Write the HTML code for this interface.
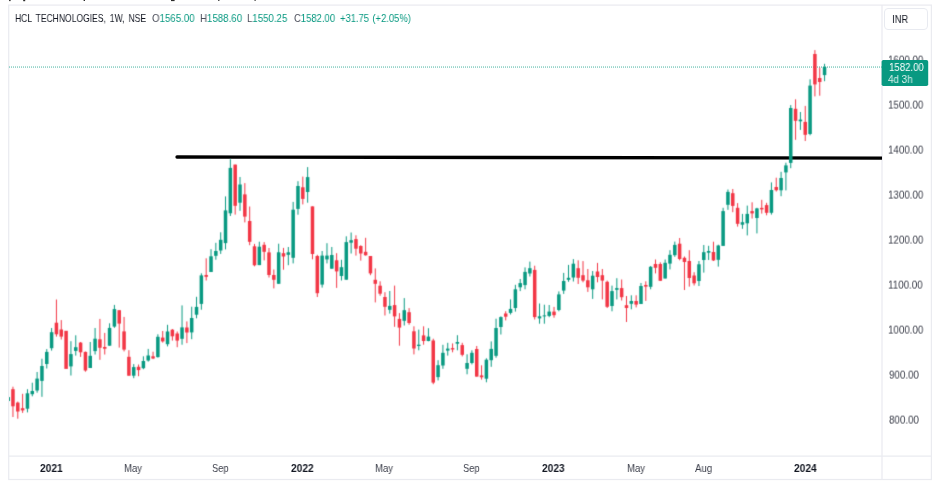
<!DOCTYPE html>
<html><head><meta charset="utf-8">
<style>
html,body{margin:0;padding:0;background:#fff;}
body{width:940px;height:483px;position:relative;overflow:hidden;font-family:"Liberation Sans",sans-serif;}
.abs{position:absolute;}
.frame{left:8px;top:5px;width:923px;height:474px;border:1px solid #e4e6ed;box-sizing:border-box;}
.vsep{left:882px;top:5px;width:1px;height:474px;background:#e4e6ed;}
.hsep{left:8px;top:456px;width:923px;height:1px;background:#e4e6ed;}
.t{white-space:nowrap;line-height:1;transform-origin:0 50%;will-change:transform;}
.pl{color:#50535e;font-size:10.5px;left:889px;}
.tl{color:#50535e;font-size:10.5px;transform-origin:50% 50%;}
.tb{color:#131722;font-weight:bold;}
</style></head><body>

<!-- header -->
<div class="abs t" style="left:15.08px;top:12.70px;font-size:10.5px;color:#131722;transform:scaleX(0.8131);transform-origin:0 0;word-spacing:2px;">HCL TECHNOLOGIES, 1W, NSE</div>
<div class="abs t" style="left:151.64px;top:12.70px;font-size:10.5px;color:#131722;transform:scaleX(0.9238);transform-origin:0 0;"><span style="color:#4a4d59">O</span><span style="color:#089981">1565.00</span></div>
<div class="abs t" style="left:199.79px;top:12.70px;font-size:10.5px;color:#131722;transform:scaleX(0.9243);transform-origin:0 0;"><span style="color:#4a4d59">H</span><span style="color:#089981">1588.60</span></div>
<div class="abs t" style="left:247.39px;top:12.70px;font-size:10.5px;color:#131722;transform:scaleX(0.9200);transform-origin:0 0;"><span style="color:#4a4d59">L</span><span style="color:#089981">1550.25</span></div>
<div class="abs t" style="left:293.55px;top:12.70px;font-size:10.5px;color:#131722;transform:scaleX(0.9010);transform-origin:0 0;"><span style="color:#4a4d59">C</span><span style="color:#089981">1582.00</span></div>
<div class="abs t" style="left:340.45px;top:12.70px;font-size:10.5px;color:#089981;transform:scaleX(0.8936);transform-origin:0 0;word-spacing:1px;">+31.75 (+2.05%)</div>

<!-- chart svg -->
<svg class="abs" style="left:0;top:0" width="940" height="483" viewBox="0 0 940 483" shape-rendering="geometricPrecision">
<defs><filter id="bl" x="-5%" y="-5%" width="110%" height="110%" color-interpolation-filters="sRGB"><feConvolveMatrix order="3" kernelMatrix="0.0169 0.0962 0.0169 0.0962 0.5476 0.0962 0.0169 0.0962 0.0169" divisor="1" edgeMode="none" preserveAlpha="false"/></filter><clipPath id="cp"><rect x="9" y="6" width="873" height="450"/></clipPath></defs>
<g fill="none" stroke="#eaebf0" stroke-width="1.25">
<rect x="8.7" y="5.1" width="922.7" height="474.4"/>
<line x1="882" y1="5.1" x2="882" y2="479.5"/>
<line x1="8.7" y1="456" x2="931.4" y2="456"/>
</g>
<g fill="#2a2a2a">
<rect x="9.1" y="0" width="1.5" height="1.1"/><rect x="23.2" y="0" width="2" height="1.2"/><rect x="83.6" y="0" width="1.4" height="1.0"/>
<rect x="171" y="0" width="3.6" height="1.1"/><rect x="218.2" y="0" width="1.2" height="1.0"/><rect x="254.5" y="0" width="1.2" height="0.9"/>
</g>
<g clip-path="url(#cp)">
<line x1="9" y1="67.05" x2="882" y2="67.05" stroke="#089981" stroke-width="1" stroke-dasharray="1 1" opacity="0.75"/>
<line x1="177" y1="157.0" x2="890" y2="158.1" stroke="#000" stroke-width="3.3" stroke-linecap="round"/>
<g filter="url(#bl)">
<rect x="6.37" y="397.1" width="3.5" height="3.9" fill="#089981"/>
<rect x="12.45" y="386.7" width="1.0" height="30.3" fill="#f23645"/>
<rect x="11.20" y="389.2" width="3.5" height="17.1" fill="#f23645"/>
<rect x="17.28" y="401.6" width="1.0" height="17.1" fill="#f23645"/>
<rect x="16.03" y="402.6" width="3.5" height="8.9" fill="#f23645"/>
<rect x="22.11" y="393.8" width="1.0" height="19.1" fill="#f23645"/>
<rect x="20.86" y="408.2" width="3.5" height="2.2" fill="#f23645"/>
<rect x="26.95" y="389.2" width="1.0" height="23.2" fill="#089981"/>
<rect x="25.70" y="393.3" width="3.5" height="15.4" fill="#089981"/>
<rect x="31.78" y="382.7" width="1.0" height="13.6" fill="#089981"/>
<rect x="30.53" y="391.0" width="3.5" height="3.2" fill="#089981"/>
<rect x="36.61" y="372.0" width="1.0" height="20.7" fill="#089981"/>
<rect x="35.36" y="378.6" width="3.5" height="11.9" fill="#089981"/>
<rect x="41.44" y="358.7" width="1.0" height="38.1" fill="#089981"/>
<rect x="40.19" y="366.0" width="3.5" height="14.9" fill="#089981"/>
<rect x="46.27" y="349.1" width="1.0" height="19.4" fill="#089981"/>
<rect x="45.02" y="351.9" width="3.5" height="12.1" fill="#089981"/>
<rect x="51.10" y="328.0" width="1.0" height="22.6" fill="#089981"/>
<rect x="49.85" y="332.2" width="3.5" height="16.0" fill="#089981"/>
<rect x="55.93" y="299.5" width="1.0" height="37.1" fill="#f23645"/>
<rect x="54.68" y="322.7" width="3.5" height="11.6" fill="#f23645"/>
<rect x="60.76" y="320.1" width="1.0" height="19.4" fill="#f23645"/>
<rect x="59.51" y="329.5" width="3.5" height="7.1" fill="#f23645"/>
<rect x="64.34" y="330.8" width="3.5" height="38.1" fill="#f23645"/>
<rect x="70.42" y="341.2" width="1.0" height="34.3" fill="#089981"/>
<rect x="69.17" y="354.1" width="3.5" height="12.3" fill="#089981"/>
<rect x="75.25" y="335.3" width="1.0" height="20.3" fill="#089981"/>
<rect x="74.00" y="347.2" width="3.5" height="3.7" fill="#089981"/>
<rect x="80.09" y="342.0" width="1.0" height="14.9" fill="#f23645"/>
<rect x="78.84" y="342.6" width="3.5" height="9.7" fill="#f23645"/>
<rect x="84.92" y="351.5" width="1.0" height="20.2" fill="#f23645"/>
<rect x="83.67" y="351.9" width="3.5" height="18.6" fill="#f23645"/>
<rect x="89.75" y="342.0" width="1.0" height="26.0" fill="#089981"/>
<rect x="88.50" y="355.8" width="3.5" height="12.2" fill="#089981"/>
<rect x="94.58" y="328.0" width="1.0" height="26.5" fill="#089981"/>
<rect x="93.33" y="338.7" width="3.5" height="12.4" fill="#089981"/>
<rect x="99.41" y="318.9" width="1.0" height="40.9" fill="#f23645"/>
<rect x="98.16" y="339.3" width="3.5" height="8.5" fill="#f23645"/>
<rect x="104.24" y="332.9" width="1.0" height="21.6" fill="#f23645"/>
<rect x="102.99" y="347.0" width="3.5" height="1.7" fill="#f23645"/>
<rect x="109.07" y="323.3" width="1.0" height="22.4" fill="#089981"/>
<rect x="107.82" y="327.9" width="3.5" height="17.8" fill="#089981"/>
<rect x="113.90" y="304.9" width="1.0" height="22.9" fill="#089981"/>
<rect x="112.65" y="309.1" width="3.5" height="17.5" fill="#089981"/>
<rect x="118.73" y="310.2" width="1.0" height="37.4" fill="#f23645"/>
<rect x="117.48" y="310.2" width="3.5" height="13.4" fill="#f23645"/>
<rect x="123.56" y="316.9" width="1.0" height="34.5" fill="#f23645"/>
<rect x="122.31" y="331.4" width="3.5" height="18.2" fill="#f23645"/>
<rect x="128.40" y="350.2" width="1.0" height="25.5" fill="#f23645"/>
<rect x="127.15" y="356.8" width="3.5" height="18.9" fill="#f23645"/>
<rect x="133.23" y="364.1" width="1.0" height="14.1" fill="#089981"/>
<rect x="131.98" y="367.1" width="3.5" height="8.6" fill="#089981"/>
<rect x="138.06" y="364.5" width="1.0" height="11.7" fill="#f23645"/>
<rect x="136.81" y="366.8" width="3.5" height="3.3" fill="#f23645"/>
<rect x="142.89" y="356.3" width="1.0" height="12.9" fill="#089981"/>
<rect x="141.64" y="361.0" width="3.5" height="7.2" fill="#089981"/>
<rect x="147.72" y="348.9" width="1.0" height="12.7" fill="#089981"/>
<rect x="146.47" y="355.5" width="3.5" height="5.0" fill="#089981"/>
<rect x="152.55" y="351.7" width="1.0" height="7.4" fill="#f23645"/>
<rect x="151.30" y="356.3" width="3.5" height="2.2" fill="#f23645"/>
<rect x="157.38" y="334.3" width="1.0" height="23.3" fill="#089981"/>
<rect x="156.13" y="336.8" width="3.5" height="20.3" fill="#089981"/>
<rect x="162.21" y="331.0" width="1.0" height="11.6" fill="#f23645"/>
<rect x="160.96" y="337.6" width="3.5" height="3.8" fill="#f23645"/>
<rect x="167.04" y="324.8" width="1.0" height="21.6" fill="#089981"/>
<rect x="165.79" y="331.5" width="3.5" height="12.7" fill="#089981"/>
<rect x="171.88" y="329.0" width="1.0" height="11.6" fill="#f23645"/>
<rect x="170.62" y="329.7" width="3.5" height="6.6" fill="#f23645"/>
<rect x="176.71" y="331.5" width="1.0" height="15.7" fill="#f23645"/>
<rect x="175.46" y="333.5" width="3.5" height="7.1" fill="#f23645"/>
<rect x="181.54" y="305.4" width="1.0" height="39.3" fill="#089981"/>
<rect x="180.29" y="327.4" width="3.5" height="11.4" fill="#089981"/>
<rect x="186.37" y="321.4" width="1.0" height="21.7" fill="#f23645"/>
<rect x="185.12" y="327.5" width="3.5" height="5.0" fill="#f23645"/>
<rect x="191.20" y="306.7" width="1.0" height="32.5" fill="#089981"/>
<rect x="189.95" y="318.0" width="3.5" height="14.4" fill="#089981"/>
<rect x="196.03" y="296.8" width="1.0" height="21.5" fill="#089981"/>
<rect x="194.78" y="306.9" width="3.5" height="7.8" fill="#089981"/>
<rect x="200.86" y="273.3" width="1.0" height="36.4" fill="#089981"/>
<rect x="199.61" y="275.4" width="3.5" height="28.5" fill="#089981"/>
<rect x="205.69" y="258.3" width="1.0" height="22.2" fill="#f23645"/>
<rect x="204.44" y="275.0" width="3.5" height="1.8" fill="#f23645"/>
<rect x="210.52" y="249.2" width="1.0" height="22.8" fill="#089981"/>
<rect x="209.27" y="256.3" width="3.5" height="15.7" fill="#089981"/>
<rect x="215.35" y="242.8" width="1.0" height="16.9" fill="#089981"/>
<rect x="214.10" y="251.0" width="3.5" height="4.8" fill="#089981"/>
<rect x="220.19" y="232.3" width="1.0" height="21.6" fill="#089981"/>
<rect x="218.94" y="239.8" width="3.5" height="10.7" fill="#089981"/>
<rect x="225.02" y="196.4" width="1.0" height="53.0" fill="#089981"/>
<rect x="223.77" y="210.4" width="3.5" height="32.7" fill="#089981"/>
<rect x="229.85" y="159.1" width="1.0" height="56.9" fill="#089981"/>
<rect x="228.60" y="167.9" width="3.5" height="45.4" fill="#089981"/>
<rect x="234.68" y="164.6" width="1.0" height="50.0" fill="#f23645"/>
<rect x="233.43" y="164.6" width="3.5" height="41.2" fill="#f23645"/>
<rect x="239.51" y="177.0" width="1.0" height="33.8" fill="#089981"/>
<rect x="238.26" y="184.5" width="3.5" height="18.2" fill="#089981"/>
<rect x="244.34" y="183.1" width="1.0" height="39.3" fill="#f23645"/>
<rect x="243.09" y="194.4" width="3.5" height="22.2" fill="#f23645"/>
<rect x="249.17" y="206.5" width="1.0" height="38.7" fill="#f23645"/>
<rect x="247.92" y="221.0" width="3.5" height="20.8" fill="#f23645"/>
<rect x="254.00" y="243.9" width="1.0" height="22.4" fill="#f23645"/>
<rect x="252.75" y="246.3" width="3.5" height="19.0" fill="#f23645"/>
<rect x="258.83" y="241.7" width="1.0" height="23.4" fill="#089981"/>
<rect x="257.58" y="246.7" width="3.5" height="18.4" fill="#089981"/>
<rect x="263.66" y="242.1" width="1.0" height="18.3" fill="#f23645"/>
<rect x="262.41" y="244.8" width="3.5" height="7.0" fill="#f23645"/>
<rect x="268.50" y="248.0" width="1.0" height="29.5" fill="#f23645"/>
<rect x="267.25" y="252.4" width="3.5" height="22.6" fill="#f23645"/>
<rect x="273.33" y="269.5" width="1.0" height="18.9" fill="#f23645"/>
<rect x="272.08" y="275.0" width="3.5" height="4.8" fill="#f23645"/>
<rect x="278.16" y="243.7" width="1.0" height="40.1" fill="#089981"/>
<rect x="276.91" y="252.3" width="3.5" height="31.5" fill="#089981"/>
<rect x="282.99" y="247.9" width="1.0" height="21.8" fill="#f23645"/>
<rect x="281.74" y="253.2" width="3.5" height="3.3" fill="#f23645"/>
<rect x="287.82" y="247.0" width="1.0" height="18.2" fill="#089981"/>
<rect x="286.57" y="252.3" width="3.5" height="2.5" fill="#089981"/>
<rect x="292.65" y="201.9" width="1.0" height="61.5" fill="#089981"/>
<rect x="291.40" y="209.7" width="3.5" height="48.1" fill="#089981"/>
<rect x="297.48" y="181.2" width="1.0" height="33.5" fill="#089981"/>
<rect x="296.23" y="186.0" width="3.5" height="22.9" fill="#089981"/>
<rect x="302.31" y="176.6" width="1.0" height="27.8" fill="#f23645"/>
<rect x="301.06" y="187.3" width="3.5" height="11.6" fill="#f23645"/>
<rect x="307.14" y="167.1" width="1.0" height="35.6" fill="#089981"/>
<rect x="305.89" y="177.1" width="3.5" height="14.9" fill="#089981"/>
<rect x="311.97" y="206.4" width="1.0" height="52.9" fill="#f23645"/>
<rect x="310.72" y="206.4" width="3.5" height="47.6" fill="#f23645"/>
<rect x="316.81" y="254.8" width="1.0" height="42.2" fill="#f23645"/>
<rect x="315.56" y="256.0" width="3.5" height="37.2" fill="#f23645"/>
<rect x="321.64" y="251.0" width="1.0" height="36.6" fill="#089981"/>
<rect x="320.39" y="255.6" width="3.5" height="29.0" fill="#089981"/>
<rect x="326.47" y="243.2" width="1.0" height="20.2" fill="#089981"/>
<rect x="325.22" y="255.6" width="3.5" height="3.8" fill="#089981"/>
<rect x="331.30" y="247.0" width="1.0" height="21.7" fill="#089981"/>
<rect x="330.05" y="255.0" width="3.5" height="13.7" fill="#089981"/>
<rect x="336.13" y="253.2" width="1.0" height="34.7" fill="#f23645"/>
<rect x="334.88" y="260.3" width="3.5" height="11.1" fill="#f23645"/>
<rect x="340.96" y="259.8" width="1.0" height="20.7" fill="#089981"/>
<rect x="339.71" y="267.2" width="3.5" height="8.8" fill="#089981"/>
<rect x="345.79" y="236.3" width="1.0" height="43.4" fill="#089981"/>
<rect x="344.54" y="242.1" width="3.5" height="37.6" fill="#089981"/>
<rect x="350.62" y="232.5" width="1.0" height="21.0" fill="#089981"/>
<rect x="349.37" y="240.2" width="3.5" height="2.5" fill="#089981"/>
<rect x="355.45" y="235.3" width="1.0" height="20.3" fill="#f23645"/>
<rect x="354.20" y="239.1" width="3.5" height="9.6" fill="#f23645"/>
<rect x="360.28" y="245.2" width="1.0" height="15.4" fill="#f23645"/>
<rect x="359.03" y="246.0" width="3.5" height="7.5" fill="#f23645"/>
<rect x="365.12" y="237.8" width="1.0" height="17.8" fill="#f23645"/>
<rect x="363.87" y="251.8" width="3.5" height="3.5" fill="#f23645"/>
<rect x="369.95" y="256.0" width="1.0" height="19.2" fill="#f23645"/>
<rect x="368.70" y="256.0" width="3.5" height="17.4" fill="#f23645"/>
<rect x="374.78" y="268.4" width="1.0" height="34.0" fill="#f23645"/>
<rect x="373.53" y="279.8" width="3.5" height="4.0" fill="#f23645"/>
<rect x="379.61" y="281.3" width="1.0" height="14.4" fill="#f23645"/>
<rect x="378.36" y="285.7" width="3.5" height="8.0" fill="#f23645"/>
<rect x="384.44" y="292.2" width="1.0" height="23.3" fill="#f23645"/>
<rect x="383.19" y="297.0" width="3.5" height="9.8" fill="#f23645"/>
<rect x="389.27" y="291.0" width="1.0" height="22.6" fill="#089981"/>
<rect x="388.02" y="305.9" width="3.5" height="3.9" fill="#089981"/>
<rect x="394.10" y="285.6" width="1.0" height="41.2" fill="#f23645"/>
<rect x="392.85" y="305.1" width="3.5" height="11.3" fill="#f23645"/>
<rect x="398.93" y="313.1" width="1.0" height="32.6" fill="#f23645"/>
<rect x="397.68" y="318.9" width="3.5" height="8.7" fill="#f23645"/>
<rect x="403.76" y="298.1" width="1.0" height="27.4" fill="#089981"/>
<rect x="402.51" y="310.2" width="3.5" height="10.6" fill="#089981"/>
<rect x="408.59" y="308.1" width="1.0" height="16.6" fill="#f23645"/>
<rect x="407.34" y="312.2" width="3.5" height="10.8" fill="#f23645"/>
<rect x="413.43" y="326.3" width="1.0" height="28.1" fill="#f23645"/>
<rect x="412.18" y="331.3" width="3.5" height="17.2" fill="#f23645"/>
<rect x="418.26" y="329.6" width="1.0" height="20.7" fill="#089981"/>
<rect x="417.01" y="344.7" width="3.5" height="1.3" fill="#089981"/>
<rect x="423.09" y="326.3" width="1.0" height="18.4" fill="#f23645"/>
<rect x="421.84" y="335.4" width="3.5" height="5.6" fill="#f23645"/>
<rect x="427.92" y="328.2" width="1.0" height="13.1" fill="#089981"/>
<rect x="426.67" y="336.6" width="3.5" height="4.4" fill="#089981"/>
<rect x="432.75" y="338.7" width="1.0" height="45.5" fill="#f23645"/>
<rect x="431.50" y="340.5" width="3.5" height="42.1" fill="#f23645"/>
<rect x="437.58" y="360.2" width="1.0" height="20.2" fill="#089981"/>
<rect x="436.33" y="365.2" width="3.5" height="11.9" fill="#089981"/>
<rect x="442.41" y="344.8" width="1.0" height="24.0" fill="#089981"/>
<rect x="441.16" y="352.8" width="3.5" height="12.7" fill="#089981"/>
<rect x="447.24" y="342.8" width="1.0" height="12.8" fill="#089981"/>
<rect x="445.99" y="348.6" width="3.5" height="2.0" fill="#089981"/>
<rect x="452.07" y="343.4" width="1.0" height="8.9" fill="#f23645"/>
<rect x="450.82" y="348.1" width="3.5" height="1.4" fill="#f23645"/>
<rect x="456.90" y="335.2" width="1.0" height="15.1" fill="#089981"/>
<rect x="455.65" y="342.0" width="3.5" height="1.7" fill="#089981"/>
<rect x="461.74" y="342.8" width="1.0" height="13.6" fill="#f23645"/>
<rect x="460.49" y="345.1" width="3.5" height="9.7" fill="#f23645"/>
<rect x="466.57" y="354.3" width="1.0" height="20.0" fill="#089981"/>
<rect x="465.32" y="363.0" width="3.5" height="5.8" fill="#089981"/>
<rect x="471.40" y="350.3" width="1.0" height="14.1" fill="#089981"/>
<rect x="470.15" y="352.8" width="3.5" height="10.2" fill="#089981"/>
<rect x="476.23" y="346.0" width="1.0" height="30.6" fill="#f23645"/>
<rect x="474.98" y="349.0" width="3.5" height="27.6" fill="#f23645"/>
<rect x="481.06" y="365.3" width="1.0" height="14.3" fill="#f23645"/>
<rect x="479.81" y="375.4" width="3.5" height="1.9" fill="#f23645"/>
<rect x="485.89" y="358.3" width="1.0" height="24.0" fill="#089981"/>
<rect x="484.64" y="359.7" width="3.5" height="19.0" fill="#089981"/>
<rect x="490.72" y="341.4" width="1.0" height="25.4" fill="#089981"/>
<rect x="489.47" y="348.9" width="3.5" height="11.3" fill="#089981"/>
<rect x="495.55" y="318.7" width="1.0" height="39.0" fill="#089981"/>
<rect x="494.30" y="328.0" width="3.5" height="27.8" fill="#089981"/>
<rect x="500.38" y="316.3" width="1.0" height="18.2" fill="#089981"/>
<rect x="499.13" y="317.1" width="3.5" height="9.9" fill="#089981"/>
<rect x="505.21" y="311.2" width="1.0" height="9.2" fill="#f23645"/>
<rect x="503.96" y="313.5" width="3.5" height="3.2" fill="#f23645"/>
<rect x="510.05" y="299.4" width="1.0" height="15.1" fill="#089981"/>
<rect x="508.80" y="308.9" width="3.5" height="4.0" fill="#089981"/>
<rect x="514.88" y="284.8" width="1.0" height="26.8" fill="#089981"/>
<rect x="513.63" y="289.3" width="3.5" height="18.7" fill="#089981"/>
<rect x="519.71" y="279.0" width="1.0" height="12.1" fill="#089981"/>
<rect x="518.46" y="283.1" width="3.5" height="4.2" fill="#089981"/>
<rect x="524.54" y="267.4" width="1.0" height="21.9" fill="#089981"/>
<rect x="523.29" y="271.9" width="3.5" height="13.2" fill="#089981"/>
<rect x="529.37" y="261.6" width="1.0" height="14.9" fill="#089981"/>
<rect x="528.12" y="268.2" width="3.5" height="5.3" fill="#089981"/>
<rect x="534.20" y="265.7" width="1.0" height="53.8" fill="#f23645"/>
<rect x="532.95" y="269.9" width="3.5" height="47.2" fill="#f23645"/>
<rect x="539.03" y="303.5" width="1.0" height="20.2" fill="#089981"/>
<rect x="537.78" y="316.3" width="3.5" height="2.1" fill="#089981"/>
<rect x="543.86" y="304.7" width="1.0" height="19.0" fill="#089981"/>
<rect x="542.61" y="315.4" width="3.5" height="1.0" fill="#089981"/>
<rect x="548.69" y="305.0" width="1.0" height="12.2" fill="#089981"/>
<rect x="547.44" y="311.6" width="3.5" height="4.3" fill="#089981"/>
<rect x="553.52" y="306.9" width="1.0" height="10.8" fill="#f23645"/>
<rect x="552.27" y="311.6" width="3.5" height="3.6" fill="#f23645"/>
<rect x="558.36" y="291.4" width="1.0" height="19.9" fill="#089981"/>
<rect x="557.11" y="294.4" width="3.5" height="15.6" fill="#089981"/>
<rect x="563.19" y="272.9" width="1.0" height="21.0" fill="#089981"/>
<rect x="561.94" y="281.0" width="3.5" height="9.6" fill="#089981"/>
<rect x="568.02" y="264.9" width="1.0" height="16.9" fill="#089981"/>
<rect x="566.77" y="277.8" width="3.5" height="2.0" fill="#089981"/>
<rect x="572.85" y="259.1" width="1.0" height="22.4" fill="#089981"/>
<rect x="571.60" y="263.7" width="3.5" height="13.8" fill="#089981"/>
<rect x="577.68" y="260.3" width="1.0" height="23.7" fill="#f23645"/>
<rect x="576.43" y="268.2" width="3.5" height="9.6" fill="#f23645"/>
<rect x="582.51" y="261.1" width="1.0" height="21.2" fill="#f23645"/>
<rect x="581.26" y="275.2" width="3.5" height="5.4" fill="#f23645"/>
<rect x="587.34" y="269.0" width="1.0" height="22.9" fill="#f23645"/>
<rect x="586.09" y="280.3" width="3.5" height="7.0" fill="#f23645"/>
<rect x="592.17" y="271.0" width="1.0" height="27.9" fill="#089981"/>
<rect x="590.92" y="275.7" width="3.5" height="13.6" fill="#089981"/>
<rect x="597.00" y="262.9" width="1.0" height="19.4" fill="#f23645"/>
<rect x="595.75" y="271.5" width="3.5" height="5.5" fill="#f23645"/>
<rect x="601.83" y="269.0" width="1.0" height="30.4" fill="#f23645"/>
<rect x="600.58" y="275.2" width="3.5" height="5.4" fill="#f23645"/>
<rect x="606.67" y="280.6" width="1.0" height="27.4" fill="#f23645"/>
<rect x="605.42" y="281.8" width="3.5" height="25.0" fill="#f23645"/>
<rect x="611.50" y="285.6" width="1.0" height="25.7" fill="#089981"/>
<rect x="610.25" y="291.1" width="3.5" height="14.9" fill="#089981"/>
<rect x="616.33" y="278.2" width="1.0" height="21.2" fill="#089981"/>
<rect x="615.08" y="288.1" width="3.5" height="1.7" fill="#089981"/>
<rect x="621.16" y="279.5" width="1.0" height="21.0" fill="#f23645"/>
<rect x="619.91" y="288.1" width="3.5" height="9.1" fill="#f23645"/>
<rect x="625.99" y="296.0" width="1.0" height="26.0" fill="#f23645"/>
<rect x="624.74" y="305.2" width="3.5" height="2.8" fill="#f23645"/>
<rect x="630.82" y="295.3" width="1.0" height="14.0" fill="#089981"/>
<rect x="629.57" y="301.0" width="3.5" height="2.8" fill="#089981"/>
<rect x="635.65" y="295.3" width="1.0" height="12.1" fill="#f23645"/>
<rect x="634.40" y="301.0" width="3.5" height="3.6" fill="#f23645"/>
<rect x="640.48" y="283.0" width="1.0" height="21.0" fill="#089981"/>
<rect x="639.23" y="286.0" width="3.5" height="18.0" fill="#089981"/>
<rect x="645.31" y="281.3" width="1.0" height="19.6" fill="#f23645"/>
<rect x="644.06" y="285.0" width="3.5" height="1.6" fill="#f23645"/>
<rect x="650.14" y="266.0" width="1.0" height="23.3" fill="#089981"/>
<rect x="648.89" y="266.8" width="3.5" height="20.0" fill="#089981"/>
<rect x="654.98" y="259.5" width="1.0" height="13.9" fill="#f23645"/>
<rect x="653.73" y="264.0" width="3.5" height="3.8" fill="#f23645"/>
<rect x="659.81" y="262.3" width="1.0" height="18.5" fill="#f23645"/>
<rect x="658.56" y="264.0" width="3.5" height="16.8" fill="#f23645"/>
<rect x="664.64" y="259.5" width="1.0" height="19.0" fill="#089981"/>
<rect x="663.39" y="262.8" width="3.5" height="15.7" fill="#089981"/>
<rect x="669.47" y="250.2" width="1.0" height="19.2" fill="#089981"/>
<rect x="668.22" y="254.8" width="3.5" height="8.8" fill="#089981"/>
<rect x="674.30" y="241.6" width="1.0" height="15.2" fill="#089981"/>
<rect x="673.05" y="244.9" width="3.5" height="10.3" fill="#089981"/>
<rect x="679.13" y="238.0" width="1.0" height="22.3" fill="#f23645"/>
<rect x="677.88" y="243.7" width="3.5" height="15.3" fill="#f23645"/>
<rect x="683.96" y="256.5" width="1.0" height="33.5" fill="#f23645"/>
<rect x="682.71" y="257.8" width="3.5" height="4.2" fill="#f23645"/>
<rect x="688.79" y="250.2" width="1.0" height="36.4" fill="#f23645"/>
<rect x="687.54" y="261.0" width="3.5" height="17.0" fill="#f23645"/>
<rect x="693.62" y="272.2" width="1.0" height="13.3" fill="#f23645"/>
<rect x="692.37" y="275.5" width="3.5" height="7.8" fill="#f23645"/>
<rect x="698.45" y="261.0" width="1.0" height="25.0" fill="#089981"/>
<rect x="697.20" y="264.3" width="3.5" height="16.7" fill="#089981"/>
<rect x="703.29" y="245.0" width="1.0" height="27.6" fill="#089981"/>
<rect x="702.04" y="252.2" width="3.5" height="7.8" fill="#089981"/>
<rect x="708.12" y="245.8" width="1.0" height="14.2" fill="#089981"/>
<rect x="706.87" y="251.0" width="3.5" height="1.7" fill="#089981"/>
<rect x="712.95" y="241.7" width="1.0" height="19.3" fill="#f23645"/>
<rect x="711.70" y="252.0" width="3.5" height="8.4" fill="#f23645"/>
<rect x="717.78" y="244.7" width="1.0" height="21.9" fill="#089981"/>
<rect x="716.53" y="245.5" width="3.5" height="14.3" fill="#089981"/>
<rect x="722.61" y="207.8" width="1.0" height="38.1" fill="#089981"/>
<rect x="721.36" y="211.1" width="3.5" height="34.8" fill="#089981"/>
<rect x="727.44" y="189.5" width="1.0" height="20.3" fill="#089981"/>
<rect x="726.19" y="191.9" width="3.5" height="12.9" fill="#089981"/>
<rect x="732.27" y="189.0" width="1.0" height="23.2" fill="#f23645"/>
<rect x="731.02" y="193.2" width="3.5" height="12.7" fill="#f23645"/>
<rect x="737.10" y="203.1" width="1.0" height="23.5" fill="#f23645"/>
<rect x="735.85" y="207.8" width="3.5" height="16.0" fill="#f23645"/>
<rect x="741.93" y="213.9" width="1.0" height="14.9" fill="#089981"/>
<rect x="740.68" y="222.2" width="3.5" height="2.5" fill="#089981"/>
<rect x="746.76" y="205.6" width="1.0" height="29.8" fill="#089981"/>
<rect x="745.51" y="213.9" width="3.5" height="9.4" fill="#089981"/>
<rect x="751.60" y="202.3" width="1.0" height="16.2" fill="#f23645"/>
<rect x="750.35" y="211.1" width="3.5" height="2.3" fill="#f23645"/>
<rect x="756.43" y="207.8" width="1.0" height="25.6" fill="#089981"/>
<rect x="755.18" y="208.4" width="3.5" height="9.6" fill="#089981"/>
<rect x="761.26" y="199.8" width="1.0" height="13.8" fill="#f23645"/>
<rect x="760.01" y="207.9" width="3.5" height="1.5" fill="#f23645"/>
<rect x="766.09" y="202.8" width="1.0" height="12.5" fill="#f23645"/>
<rect x="764.84" y="205.1" width="3.5" height="7.7" fill="#f23645"/>
<rect x="770.92" y="182.4" width="1.0" height="32.2" fill="#089981"/>
<rect x="769.67" y="190.0" width="3.5" height="22.8" fill="#089981"/>
<rect x="775.75" y="177.7" width="1.0" height="13.8" fill="#f23645"/>
<rect x="774.50" y="187.0" width="3.5" height="3.2" fill="#f23645"/>
<rect x="780.58" y="171.8" width="1.0" height="24.4" fill="#089981"/>
<rect x="779.33" y="178.0" width="3.5" height="12.3" fill="#089981"/>
<rect x="785.41" y="162.7" width="1.0" height="27.7" fill="#089981"/>
<rect x="784.16" y="165.4" width="3.5" height="7.0" fill="#089981"/>
<rect x="790.24" y="105.1" width="1.0" height="63.1" fill="#089981"/>
<rect x="788.99" y="108.0" width="3.5" height="54.9" fill="#089981"/>
<rect x="795.07" y="99.3" width="1.0" height="40.5" fill="#f23645"/>
<rect x="793.82" y="108.8" width="3.5" height="12.0" fill="#f23645"/>
<rect x="799.91" y="112.0" width="1.0" height="17.9" fill="#089981"/>
<rect x="798.66" y="119.6" width="3.5" height="1.7" fill="#089981"/>
<rect x="804.74" y="105.9" width="1.0" height="35.1" fill="#f23645"/>
<rect x="803.49" y="121.9" width="3.5" height="12.9" fill="#f23645"/>
<rect x="809.57" y="79.3" width="1.0" height="56.0" fill="#089981"/>
<rect x="808.32" y="85.6" width="3.5" height="48.4" fill="#089981"/>
<rect x="814.40" y="50.1" width="1.0" height="46.3" fill="#f23645"/>
<rect x="813.15" y="54.0" width="3.5" height="30.4" fill="#f23645"/>
<rect x="819.23" y="67.5" width="1.0" height="28.2" fill="#f23645"/>
<rect x="817.98" y="78.0" width="3.5" height="4.0" fill="#f23645"/>
<rect x="824.06" y="63.8" width="1.0" height="17.4" fill="#089981"/>
<rect x="822.81" y="67.0" width="3.5" height="8.1" fill="#089981"/>
</g>
</g>
</svg>

<!-- INR box -->
<div class="abs" style="left:884px;top:8px;width:44px;height:22px;border:1px solid #e8eaf0;border-radius:4px;box-sizing:border-box;"></div>
<div class="abs t" style="left:891.60px;top:13.50px;font-size:10.5px;color:#131722;transform:scaleX(0.8970);transform-origin:0 0;">INR</div>
<!-- price labels -->
<div class="abs t" style="left:888.30px;top:54.20px;font-size:10.5px;color:#3a3d49;transform:translateY(0.6px) scaleX(0.9333);transform-origin:0 0;">1600.00</div>
<div class="abs t" style="left:888.30px;top:99.20px;font-size:10.5px;color:#3a3d49;transform:translateY(0.6px) scaleX(0.9333);transform-origin:0 0;">1500.00</div>
<div class="abs t" style="left:888.30px;top:144.20px;font-size:10.5px;color:#3a3d49;transform:translateY(0.6px) scaleX(0.9333);transform-origin:0 0;">1400.00</div>
<div class="abs t" style="left:888.30px;top:189.20px;font-size:10.5px;color:#3a3d49;transform:translateY(0.6px) scaleX(0.9333);transform-origin:0 0;">1300.00</div>
<div class="abs t" style="left:888.30px;top:234.20px;font-size:10.5px;color:#3a3d49;transform:translateY(0.6px) scaleX(0.9333);transform-origin:0 0;">1200.00</div>
<div class="abs t" style="left:888.30px;top:279.20px;font-size:10.5px;color:#3a3d49;transform:translateY(0.6px) scaleX(0.9333);transform-origin:0 0;">1100.00</div>
<div class="abs t" style="left:888.30px;top:324.20px;font-size:10.5px;color:#3a3d49;transform:translateY(0.6px) scaleX(0.9333);transform-origin:0 0;">1000.00</div>
<div class="abs t" style="left:888.53px;top:369.20px;font-size:10.5px;color:#3a3d49;transform:translateY(0.6px) scaleX(0.9312);transform-origin:0 0;">900.00</div>
<div class="abs t" style="left:888.53px;top:414.20px;font-size:10.5px;color:#3a3d49;transform:translateY(0.6px) scaleX(0.9312);transform-origin:0 0;">800.00</div>
<!-- current price tag -->
<svg class="abs" style="left:0;top:0" width="940" height="100"><rect x="881.6" y="59.9" width="46.6" height="26.1" rx="1.8" fill="#089981"/></svg>
<div class="abs t" style="left:888.60px;top:61.90px;font-size:10.5px;color:#fff;transform:scaleX(0.9200);transform-origin:0 0;">1582.00</div>
<div class="abs t" style="left:888.17px;top:73.70px;font-size:10.5px;color:rgba(255,255,255,0.85);transform:scaleX(0.9377);transform-origin:0 0;">4d 3h</div>
<!-- time labels -->
<div class="abs t" style="left:39.97px;top:462.70px;font-size:10.5px;color:#131722;font-weight:bold;transform:scaleX(0.9700);transform-origin:0 0;">2021</div>
<div class="abs t" style="left:124.17px;top:462.70px;font-size:10.5px;color:#3a3d49;transform:scaleX(0.9100);transform-origin:0 0;">May</div>
<div class="abs t" style="left:211.85px;top:462.70px;font-size:10.5px;color:#3a3d49;transform:scaleX(0.8930);transform-origin:0 0;">Sep</div>
<div class="abs t" style="left:291.37px;top:462.70px;font-size:10.5px;color:#131722;font-weight:bold;transform:scaleX(0.9700);transform-origin:0 0;">2022</div>
<div class="abs t" style="left:375.37px;top:462.70px;font-size:10.5px;color:#3a3d49;transform:scaleX(0.9100);transform-origin:0 0;">May</div>
<div class="abs t" style="left:463.35px;top:462.70px;font-size:10.5px;color:#3a3d49;transform:scaleX(0.8930);transform-origin:0 0;">Sep</div>
<div class="abs t" style="left:542.47px;top:462.70px;font-size:10.5px;color:#131722;font-weight:bold;transform:scaleX(0.9700);transform-origin:0 0;">2023</div>
<div class="abs t" style="left:626.67px;top:462.70px;font-size:10.5px;color:#3a3d49;transform:scaleX(0.9100);transform-origin:0 0;">May</div>
<div class="abs t" style="left:695.08px;top:462.70px;font-size:10.5px;color:#3a3d49;transform:scaleX(0.9220);transform-origin:0 0;">Aug</div>
<div class="abs t" style="left:793.67px;top:462.70px;font-size:10.5px;color:#131722;font-weight:bold;transform:scaleX(0.9700);transform-origin:0 0;">2024</div>
</body></html>
